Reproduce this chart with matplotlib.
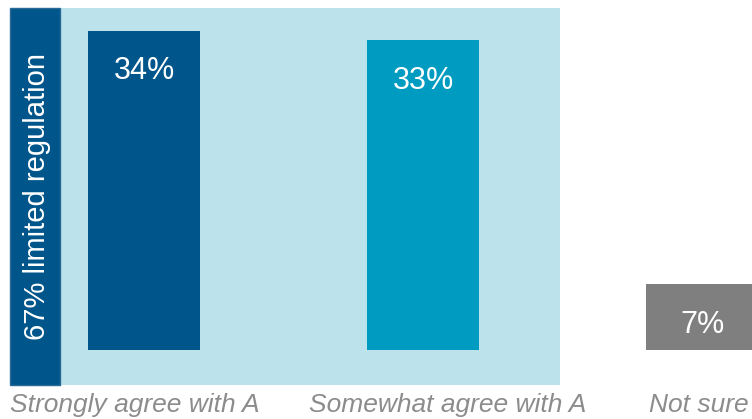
import matplotlib
matplotlib.use("Agg")
import matplotlib.pyplot as plt
from matplotlib.patches import Rectangle

plt.rcParams['font.family'] = ['Liberation Sans', 'DejaVu Sans']

categories = ["Strongly agree with A", "Somewhat agree with A", "Not sure"]
values = [34, 33, 7]
bar_colors = ["#00558A", "#009BC0", "#7F7F7F"]
group_label = "67% limited regulation"
group_total = 67

fig = plt.figure(figsize=(7.52, 4.19), dpi=100)
ax = fig.add_axes([0, 0, 1, 1])
ax.set_xlim(-0.516, 2.179)
ax.set_ylim(-7.36, 37.31)
ax.axis('off')

# background group panel
ax.add_patch(Rectangle((-0.480, -3.73), 1.971, 40.19, facecolor="#BCE3EC",
                       edgecolor="none", zorder=0))
ax.add_patch(Rectangle((-0.480, -3.73), 0.179, 40.19, facecolor="#00558A",
                       edgecolor="#2A6A98", linewidth=1, zorder=1))
ax.text(-0.384, 16.4, group_label, rotation=90, ha='center', va='center',
        color='white', fontsize=21, zorder=3)

x = list(range(len(categories)))
bars = ax.bar(x, values, width=0.4, color=bar_colors, zorder=2)
for xi, v in zip(x, values):
    ax.text(xi, v - 2.7, f"{v}%", ha='center', va='top', color='white',
            fontsize=22, zorder=3)

label_x = [-0.032, 1.090, 1.989]
for lx, c in zip(label_x, categories):
    ax.text(lx, -5.9, c, ha='center', va='center', color='#8C8C8C',
            fontsize=19, style='italic', zorder=3)

fig.savefig("out.png", dpi=100)
